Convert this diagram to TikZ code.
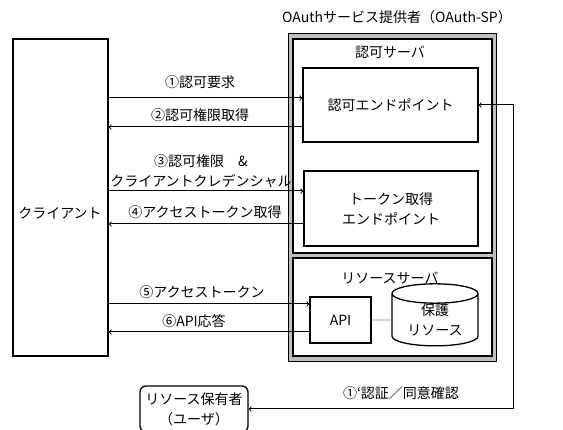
\documentclass[tikz,border=0pt]{standalone}
\usepackage{fontspec}
\setmainfont{Noto Sans CJK JP}
\usetikzlibrary{shapes.geometric,calc,positioning}

\begin{document}
\begin{tikzpicture}
	[x=1pt,y=-1pt,line width=1pt,>=to,
	every node/.style={font=\fontsize{14}{20}\selectfont,align=center,inner sep=1pt},
	box/.style={shape=rectangle,draw,line width=1.3pt,fill=white,inner sep=0pt}]
	\useasboundingbox (0,0) rectangle (563,430);

	% OAuth-SP frame
	\node (title) at (397,17) {OAuthサービス提供者（OAuth-SP）};
	\node[draw,line width=0.6pt,fill=gray!50,minimum width=208,minimum height=328] (sp) at (392,197) {};
	\node[box,minimum width=199,minimum height=214] (authsrv) at (392.5,146) {};
	\node[box,minimum width=199,minimum height=98] (rsrv) at (392.5,307) {};
	\node (authsrvlbl) at (390,52) {認可サーバ};
	\node (rsrvlbl) at (390,278) {リソースサーバ};

	% endpoints and resources
	\node[box,minimum width=175,minimum height=74] (authep) at (390.5,105) {認可エンドポイント};
	\node[box,minimum width=174,minimum height=75] (tokenep) at (391,208.5) {トークン取得\\エンドポイント};
	\node[box,minimum width=61,minimum height=46] (api) at (340.5,320) {API};
	\node[draw,line width=1.3pt,fill=white,shape=cylinder,shape border rotate=90,aspect=0.35,
		minimum width=86,minimum height=56,inner sep=0pt] (res) at (435,320) {保護\\リソース};
	\draw[gray,line width=0.8pt] (api) -- (res);

	% client and owner
	\node[box,minimum width=95,minimum height=317] (client) at (60.5,197.5) {};
	\node (clientlbl) at (60,213) {クライアント};
	\node[box,rounded corners=6,minimum width=108,minimum height=46] (owner) at (194,409) {リソース保有者\\（ユーザ）};

	% messages
	\foreach \dst/\ypos in {authep/98,tokenep/191,api/304}
		\draw[->] (client.east |- 0,\ypos) -- (\dst.west |- 0,\ypos);
	\foreach \src/\ypos in {authep/127,tokenep/224,api/332}
		\draw[->] (\src.west |- 0,\ypos) -- (client.east |- 0,\ypos);
	\draw[<->] (authep.east) -- ++(35,0) |- (owner.east);

	\node (m1) at (200,82) {①認可要求};
	\node (m2) at (200,115) {②認可権限取得};
	\node (m3) at (201,171) {③認可権限　\&\\クライアントクレデンシャル};
	\node (m4) at (205,212) {④アクセストークン取得};
	\node (m5) at (202,292) {⑤アクセストークン};
	\node (m6) at (194,321) {⑥API応答};
	\node (m7) at (401,393) {①‘認証／同意確認};
\end{tikzpicture}
\end{document}
